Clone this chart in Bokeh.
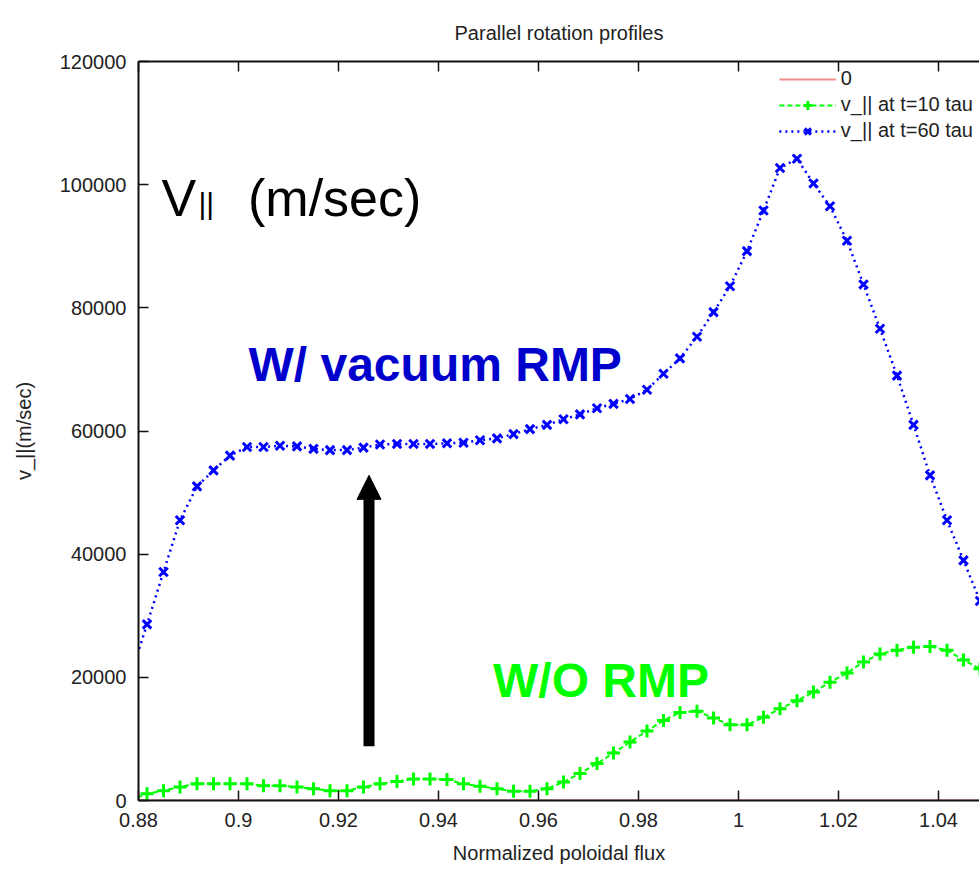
from bokeh.plotting import figure
from bokeh.models import (LinearAxis, FixedTicker, CustomJSTickFormatter, Legend, LegendItem,
                          Arrow, NormalHead, Label, Range1d, BasicTickFormatter)
from bokeh.embed import file_html
from bokeh.resources import INLINE

# Normalized poloidal flux sample points
psi = [0.8783, 0.8817, 0.8850, 0.8883, 0.8917, 0.8950, 0.8983, 0.9017, 0.9050, 0.9083,
       0.9117, 0.9150, 0.9183, 0.9217, 0.9250, 0.9283, 0.9317, 0.9350, 0.9383, 0.9417,
       0.9450, 0.9483, 0.9517, 0.9550, 0.9583, 0.9617, 0.9650, 0.9683, 0.9717, 0.9750,
       0.9783, 0.9817, 0.9850, 0.9883, 0.9917, 0.9950, 0.9983, 1.0017, 1.0050, 1.0083,
       1.0117, 1.0150, 1.0183, 1.0217, 1.0250, 1.0283, 1.0317, 1.0350, 1.0383, 1.0417,
       1.0450, 1.0483]

# v_|| at t=10 tau (m/sec)
v_t10 = [0, 1100, 1600, 2200, 2700, 2700, 2700, 2700, 2400, 2400,
         2200, 1900, 1600, 1600, 2200, 2700, 3100, 3500, 3500, 3400,
         2700, 2300, 1900, 1500, 1500, 1900, 3000, 4400, 6000, 7700,
         9500, 11300, 13000, 14300, 14500, 13400, 12300, 12300, 13500, 14900,
         16200, 17600, 19200, 20700, 22500, 23800, 24400, 24900, 25000, 24400,
         22800, 21400]

# v_|| at t=60 tau (m/sec)
v_t60 = [20000, 28600, 37100, 45500, 51000, 53600, 56000, 57400, 57400, 57600,
         57500, 57100, 56900, 56900, 57300, 57800, 57900, 57900, 57900, 58000,
         58100, 58500, 58800, 59500, 60300, 61000, 61900, 62700, 63700, 64400,
         65200, 66700, 69300, 71800, 75300, 79300, 83500, 89200, 95800, 102700,
         104200, 100200, 96500, 90900, 83800, 76600, 69000, 61000, 52800, 45500,
         39000, 32400]

# reference "0" line
zero = [0.0] * len(psi)

x_ticks = [0.88, 0.90, 0.92, 0.94, 0.96, 0.98, 1.00, 1.02, 1.04]
y_ticks = [0, 20000, 40000, 60000, 80000, 100000, 120000]

FONT = "Liberation Sans"

p = figure(width=979, height=878, output_backend="svg", toolbar_location=None,
           x_range=Range1d(0.88, 1.0482), y_range=Range1d(0, 120000),
           min_border_left=138, min_border_right=0, min_border_top=61, min_border_bottom=78,
           title="Parallel rotation profiles",
           x_axis_label="Normalized poloidal flux", y_axis_label="v_||(m/sec)")
p.background_fill_color = "white"
p.border_fill_color = "white"
p.outline_line_color = None
p.grid.visible = False

p.title.text_font = FONT
p.title.text_font_size = "20px"
p.title.text_font_style = "normal"
p.title.text_color = "#222222"
p.title.align = "center"
p.title.standoff = 36

# axes
for ax in (p.xaxis[0], p.yaxis[0]):
    ax.axis_line_width = 2
    ax.axis_line_color = "#111111"
    ax.major_tick_line_color = "#111111"
    ax.major_tick_line_width = 1.5
    ax.major_tick_in = 10
    ax.major_tick_out = 0
    ax.minor_tick_line_color = None
    ax.major_label_text_font = FONT
    ax.major_label_text_font_size = "20px"
    ax.major_label_text_color = "#222222"
    ax.axis_label_text_font = FONT
    ax.axis_label_text_font_size = "20px"
    ax.axis_label_text_font_style = "normal"
    ax.axis_label_text_color = "#222222"

p.xaxis[0].ticker = FixedTicker(ticks=x_ticks)
p.xaxis[0].formatter = CustomJSTickFormatter(code="return String(Math.round(tick*100)/100);")
p.xaxis[0].major_label_standoff = 12
p.xaxis[0].axis_label_standoff = 12

p.yaxis[0].ticker = FixedTicker(ticks=y_ticks)
p.yaxis[0].formatter = BasicTickFormatter(use_scientific=False)
p.yaxis[0].major_label_standoff = 12
p.yaxis[0].axis_label_standoff = 22

# top border with inward mirror ticks, no labels
top = LinearAxis(ticker=FixedTicker(ticks=x_ticks),
                 formatter=CustomJSTickFormatter(code="return '';"),
                 major_label_text_font_size="20px",
                 major_label_standoff=0, axis_line_width=2, axis_line_color="#111111",
                 major_tick_line_color="#111111", major_tick_line_width=1.5,
                 major_tick_in=10, major_tick_out=0, minor_tick_line_color=None)
p.add_layout(top, "above")

# data
r0 = p.line(psi, zero, line_color="#F08C8C", line_width=2)
g_line = p.line(psi, v_t10, line_color="#00FF00", line_width=2, line_dash="5 3")
g_pts = p.scatter(psi, v_t10, marker="cross", size=13, line_color="#00FF00", line_width=3)
b_line = p.line(psi, v_t60, line_color="#0000FF", line_width=2.5, line_dash="2 4")
b_pts = p.scatter(psi, v_t60, marker="x", size=12, line_color="#0000FF", line_width=3)

legend = Legend(items=[
    LegendItem(label="0", renderers=[r0]),
    LegendItem(label="v_|| at t=10 tau", renderers=[g_line, g_pts]),
    LegendItem(label="v_|| at t=60 tau", renderers=[b_line, b_pts]),
], location="top_right")
legend.background_fill_alpha = 0
legend.border_line_color = None
legend.label_text_font = FONT
legend.label_text_font_size = "20px"
legend.label_text_color = "#222222"
legend.glyph_width = 57
legend.glyph_height = 22
legend.label_height = 22
legend.spacing = 3
legend.padding = 4
legend.margin = 6
p.add_layout(legend)

# annotations
p.add_layout(Label(x=0.8846, y=97900, text="V", text_font=FONT, text_font_size="52px",
                   text_baseline="alphabetic", text_align="left", text_color="black"))
p.add_layout(Label(x=0.8920, y=97000, text="||", text_font=FONT, text_font_size="30px",
                   text_baseline="alphabetic", text_align="left", text_color="black"))
p.add_layout(Label(x=0.9019, y=97900, text="(m/sec)", text_font=FONT, text_font_size="52px",
                   text_baseline="alphabetic", text_align="left", text_color="black"))
p.add_layout(Label(x=0.9020, y=70800, text="W/ vacuum RMP", text_font=FONT, text_font_size="48px",
                   text_font_style="bold", text_baseline="alphabetic", text_align="left",
                   text_color="#0000CC"))
p.add_layout(Label(x=0.9509, y=19500, text="W/O RMP", text_font=FONT, text_font_size="48px",
                   text_font_style="bold", text_baseline="alphabetic", text_align="left",
                   text_color="#00FF00"))

p.add_layout(Arrow(end=NormalHead(size=24, fill_color="black", line_color="black", line_width=1),
                   x_start=0.9261, y_start=8800, x_end=0.9261, y_end=52800,
                   line_color="black", line_width=11))

open("out.html", "w").write(file_html(p, INLINE))
